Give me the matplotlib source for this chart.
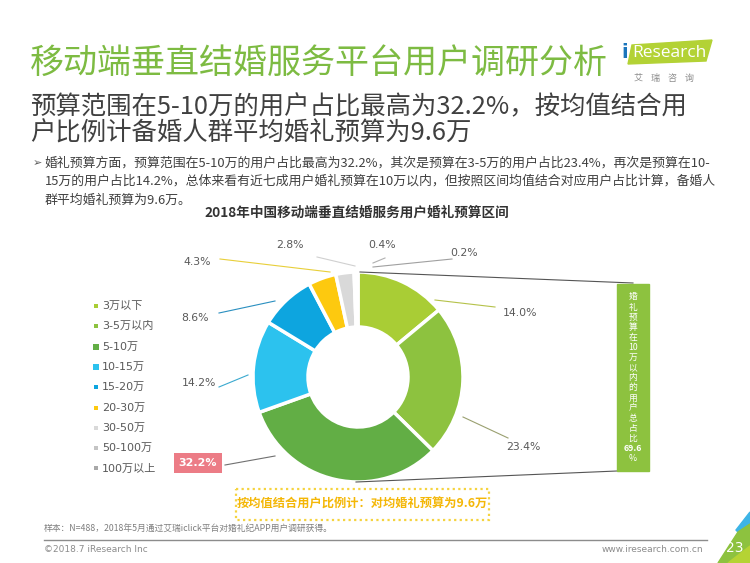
import matplotlib
matplotlib.use("Agg")
from matplotlib import pyplot as plt
from matplotlib.patches import Polygon, Rectangle

plt.rcParams['font.family'] = ['Noto Sans CJK SC', 'DejaVu Sans']

# ---- data ----
budget_ranges = ["3万以下", "3-5万以内", "5-10万", "10-15万", "15-20万",
                 "20-30万", "30-50万", "50-100万", "100万以上"]
user_share = [14.0, 23.4, 32.2, 14.2, 8.6, 4.3, 2.8, 0.4, 0.2]
share_within_10w = 69.6
avg_budget = 9.6
sample_n = 488

colors = ["#A9CD35", "#8DC23F", "#62AE45", "#2CC2EE", "#0DA5DF",
          "#FDC90F", "#D9D9D9", "#C4C4C4", "#A8A8A8"]
legend_marker_size = [7, 7, 22, 22, 7, 7, 7, 7, 7]

# label anchor layout (text pos, leader start, leader end) in pixels
label_layout = [
    ((520, 313), (495, 307), (435, 300)),
    ((523, 447), (508, 438), (463, 417)),
    ((198, 463), (225, 465), (275, 456)),
    ((199, 383), (219, 387), (248, 375)),
    ((195, 318), (219, 313), (275, 301)),
    ((197, 262), (220, 259), (330, 272)),
    ((290, 245), (317, 257), (355, 266)),
    ((382, 245), (385, 258), (373, 263)),
    ((464, 253), (452, 259), (373, 267)),
]
line_colors = ["#B5C24A", "#9AA070", "#707070", "#3AA9CF", "#2A8FC0",
               "#E8CF3A", "#D0D0D0", "#B0B0B0", "#A0A0A0"]

W, H = 750, 563
fig = plt.figure(figsize=(W / 100, H / 100), dpi=100)
ax = fig.add_axes([0, 0, 1, 1])

cx, cy, R = 358, 377, 105
wedges, _ = ax.pie(user_share, colors=colors, startangle=-90, counterclock=True,
                   radius=R, center=(cx, cy),
                   wedgeprops=dict(width=55, edgecolor="white", linewidth=2.5))
ax.set_xlim(0, W)
ax.set_ylim(H, 0)
ax.set_aspect("auto")
ax.axis("off")

# title + logo
ax.text(30, 63, "移动端垂直结婚服务平台用户调研分析", fontsize=24.5, color="#7DBB42",
        va="center", ha="left")
ax.add_patch(Polygon([(632, 45), (712, 40), (706, 61), (628, 64)], closed=True,
                     color="#B3D235", zorder=3))
ax.text(625, 53, "i", fontsize=14, color="#1B75BC", fontweight="bold", va="center",
        ha="center", family="DejaVu Sans", zorder=4)
ax.text(669, 53, "Research", fontsize=12.5, color="white", va="center", ha="center",
        family="Open Sans", zorder=4)
ax.text(664, 78, "艾    瑞    咨    询", fontsize=6.5, color="#8C8C8C", va="center",
        ha="center")

# subtitle
ax.text(30, 107, "预算范围在5-10万的用户占比最高为32.2%，按均值结合用", fontsize=18.3,
        color="#404040", va="center")
ax.text(30, 134, "户比例计备婚人群平均婚礼预算为9.6万", fontsize=18.3,
        color="#404040", va="center")

# bullet text
bullet = ["婚礼预算方面，预算范围在5-10万的用户占比最高为32.2%，其次是预算在3-5万的用户占比23.4%，再次是预算在10-",
          "15万的用户占比14.2%，总体来看有近七成用户婚礼预算在10万以内，但按照区间均值结合对应用户占比计算，备婚人",
          "群平均婚礼预算为9.6万。"]
ax.text(33, 163, "➢", fontsize=8, color="#595959", va="center", family="DejaVu Sans")
for i, line in enumerate(bullet):
    ax.text(45, 163 + i * 18.5, line, fontsize=9.3, color="#404040", va="center")

ax.text(357, 213, "2018年中国移动端垂直结婚服务用户婚礼预算区间", fontsize=9.8,
        fontweight="bold", color="#333333", va="center", ha="center")

# percentage labels with leader lines
for k, (val, (tp, p0, p1)) in enumerate(zip(user_share, label_layout)):
    ax.plot([p0[0], p1[0]], [p0[1], p1[1]], color=line_colors[k], lw=0.8)
    if k == 2:
        ax.text(tp[0], tp[1], f"{val:.1f}%", fontsize=8, color="white",
                fontweight="bold", family="DejaVu Sans", ha="center", va="center",
                bbox=dict(boxstyle="square,pad=0.45", fc="#EC7C86", ec="none"))
    else:
        ax.text(tp[0], tp[1], f"{val:.1f}%", fontsize=7.8, color="#595959",
                family="DejaVu Sans", ha="center", va="center")

# legend
for k, name in enumerate(budget_ranges):
    y = 306 + k * 20.3
    ax.scatter([96], [y], s=legend_marker_size[k], marker="s", color=colors[k],
               linewidths=0)
    ax.text(102, y, name, fontsize=8, color="#595959", va="center",
            family=["DejaVu Sans", "Noto Sans CJK SC"])

# green box: share of users under 10w
ax.plot([360, 633], [272, 283], color="#555555", lw=0.8)
ax.plot([356, 617], [482, 471], color="#555555", lw=0.8)
ax.add_patch(Rectangle((617, 284), 32, 187, color="#8DC23F", zorder=3))
box_chars = list("婚礼预算在") + ["10"] + list("万以内的用户总占比") + [f"{share_within_10w}", "%"]
for i, ch in enumerate(box_chars):
    ax.text(633, 297 + i * 10.1, ch, fontsize=6.3, color="white", ha="center",
            va="center", zorder=4,
            fontweight="bold" if ch[0].isdigit() and "." in ch else "normal")

# dashed callout box
ax.add_patch(Rectangle((236, 489), 253, 31, fill=False, ec="#F5D33F", lw=1.6,
                       ls=(0, (1, 1.5))))
ax.text(362, 504, f"按均值结合用户比例计：对均婚礼预算为{avg_budget}万", fontsize=8.8,
        color="#F4B707", fontweight="bold", ha="center", va="center")

# footer
ax.text(44, 528, f"样本：N={sample_n}，2018年5月通过艾瑞iclick平台对婚礼纪APP用户调研获得。",
        fontsize=6.3, color="#7F7F7F", va="center")
ax.plot([44, 707], [540, 540], color="#8C8C8C", lw=1)
ax.text(44, 549, "©2018.7 iResearch Inc", fontsize=6.5, color="#8C8C8C", va="center",
        family="DejaVu Sans")
ax.text(703, 549, "www.iresearch.com.cn", fontsize=6.5, color="#8C8C8C", va="center",
        ha="right", family="DejaVu Sans")
ax.add_patch(Polygon([(736, 530), (750, 512), (750, 545)], closed=True, color="#3DB4E6"))
ax.add_patch(Polygon([(718, 563), (738, 532), (750, 524), (750, 563)], closed=True,
                     color="#8DC23F"))
ax.add_patch(Polygon([(728, 563), (750, 546), (750, 563)], closed=True, color="#B5D334"))
ax.text(735, 548, "23", fontsize=10, color="white", ha="center", va="center",
        family="DejaVu Sans")

fig.savefig("out.png", dpi=100)
